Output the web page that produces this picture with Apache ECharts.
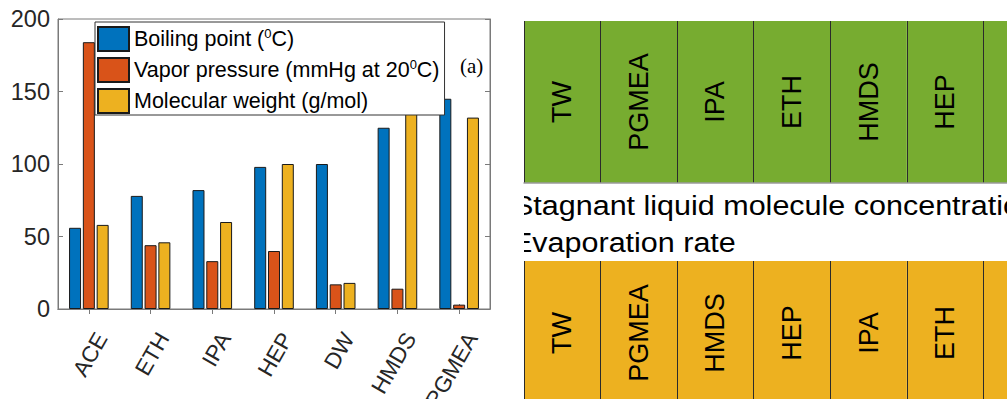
<!DOCTYPE html>
<html>
<head>
<meta charset="utf-8">
<script src="https://cdn.jsdelivr.net/npm/echarts@6/dist/echarts.min.js"></script>
<style>
  html, body { margin: 0; padding: 0; background: #fff; }
  #chart { width: 1007px; height: 399px; }
</style>
</head>
<body>
<div id="chart"></div>
<script>
// (a) solvent properties
var solvents = ['ACE', 'ETH', 'IPA', 'HEP', 'DW', 'HMDS', 'PGMEA'];
var boilingPoint = [56, 78, 82, 98, 100, 125, 145];
var vaporPressure = [184, 44, 33, 40, 17, 14, 3];
var molecularWeight = [58, 46, 60, 100, 18, 162, 132];
var yTicks = [0, 50, 100, 150, 200];

// legend text split as [before, superscript, after]
var legendParts = [
  ['Boiling point (', '0', 'C)'],
  ['Vapor pressure (mmHg at 20', '0', 'C)'],
  ['Molecular weight (g/mol)', '', '']
];

// ranking strips on the right (last cell is cut off by the edge, name not visible)
var concentrationOrder = ['TW', 'PGMEA', 'IPA', 'ETH', 'HMDS', 'HEP', ''];
var evaporationOrder = ['TW', 'PGMEA', 'HMDS', 'HEP', 'IPA', 'ETH', ''];
var stripLabels = ['Stagnant liquid molecule concentration', 'Evaporation rate'];

var BLUE = '#0072BD', RED = '#D95319', YELLOW = '#EDB120', GREEN = '#77AC30';
var AXIS = '#7a7a7a', TXT = '#262626';
var FONT = 'Arial, "Liberation Sans", Helvetica, sans-serif';

var seriesNames = legendParts.map(function(p) { return p.join(''); });

function propBar(index, values, color) {
  return {
    type: 'bar',
    name: seriesNames[index],
    xAxisIndex: 0,
    yAxisIndex: 0,
    barWidth: 12,
    barGap: '15%',
    data: values,
    itemStyle: { color: color, borderColor: '#1a1a1a', borderWidth: 1 }
  };
}

function stripBar(names, color, axisIdx) {
  return {
    type: 'bar',
    xAxisIndex: axisIdx,
    yAxisIndex: axisIdx,
    barCategoryGap: '0%',
    silent: true,
    data: names.map(function(n) { return { name: n, value: 1 }; }),
    itemStyle: { color: color },
    label: {
      show: true, position: 'inside', rotate: 90, formatter: '{b}',
      fontSize: 27, color: '#000', fontFamily: FONT
    }
  };
}

function stripXAxis(grid, names, pos) {
  return {
    type: 'category', gridIndex: grid, data: names, position: pos, z: 5,
    axisLine: { show: true, lineStyle: { color: '#9a9a9a', width: 1.5 } },
    axisTick: { show: false }, axisLabel: { show: false },
    splitLine: { show: true, lineStyle: { color: '#2b2b2b', width: 1 } }
  };
}

var chart = echarts.init(document.getElementById('chart'), null, { renderer: 'svg' });

var option = {
  animation: false,
  textStyle: { fontFamily: FONT },
  grid: [
    { left: 58, top: 19, right: 517, bottom: 90, show: true, borderColor: AXIS, borderWidth: 1, outerBoundsMode: 'none' },
    { left: 524, top: 21, height: 162, right: -53, outerBoundsMode: 'none' },
    { left: 524, top: 261, height: 144, right: -53, outerBoundsMode: 'none' }
  ],
  legend: {
    orient: 'vertical',
    left: 95, top: 22,
    data: seriesNames,
    icon: 'rect',
    backgroundColor: '#fff',
    borderColor: '#333', borderWidth: 1,
    padding: [4, 5, 1, 2],
    itemWidth: 31, itemHeight: 24, itemGap: 5,
    formatter: function(name) {
      var p = legendParts[seriesNames.indexOf(name)];
      var s = '{t|' + p[0] + '}';
      if (p[1]) s += '{s|' + p[1] + '}{t|' + p[2] + '}';
      return s;
    },
    textStyle: {
      rich: {
        t: { fontSize: 21.5, color: '#000', lineHeight: 24, fontFamily: FONT },
        s: { fontSize: 13, color: '#000', lineHeight: 16, verticalAlign: 'top', fontFamily: FONT }
      }
    }
  },
  xAxis: [
    {
      type: 'category', gridIndex: 0, data: solvents,
      axisLine: { lineStyle: { color: AXIS } },
      axisTick: { show: true, inside: true, alignWithLabel: true, length: 5, lineStyle: { color: AXIS } },
      axisLabel: {
        interval: 0, rotate: 60, fontSize: 22.5, color: TXT, margin: 18,
        align: 'right', verticalAlign: 'top', lineHeight: 30
      }
    },
    {
      type: 'category', gridIndex: 0, data: solvents, position: 'top',
      axisLine: { lineStyle: { color: AXIS } },
      axisTick: { show: true, inside: true, alignWithLabel: true, length: 5, lineStyle: { color: AXIS } },
      axisLabel: { show: false }
    },
    stripXAxis(1, concentrationOrder, 'bottom'),
    stripXAxis(2, evaporationOrder, 'top')
  ],
  yAxis: [
    {
      type: 'value', gridIndex: 0,
      min: yTicks[0], max: yTicks[yTicks.length - 1], interval: yTicks[1] - yTicks[0],
      axisLine: { show: true, lineStyle: { color: AXIS } },
      axisTick: { show: true, inside: true, length: 5, lineStyle: { color: AXIS } },
      axisLabel: { fontSize: 23.5, color: TXT, margin: 8, padding: [5, 0, 0, 0] },
      splitLine: { show: false }
    },
    {
      type: 'value', gridIndex: 0, position: 'right',
      min: yTicks[0], max: yTicks[yTicks.length - 1], interval: yTicks[1] - yTicks[0],
      axisLine: { show: true, lineStyle: { color: AXIS } },
      axisTick: { show: true, inside: true, length: 5, lineStyle: { color: AXIS } },
      axisLabel: { show: false },
      splitLine: { show: false }
    },
    { type: 'value', gridIndex: 1, min: 0, max: 1, show: false },
    { type: 'value', gridIndex: 2, min: 0, max: 1, show: false }
  ],
  graphic: [
    {
      type: 'text', x: 460, y: 66, z: 10,
      style: { text: '(a)', font: '21px "Liberation Serif", "Times New Roman", serif', fill: '#000', verticalAlign: 'middle' }
    },
    {
      type: 'text', x: 513, y: 205, z: 10, scaleX: 1.09,
      style: { text: stripLabels[0], font: '28px ' + FONT, fill: '#000', verticalAlign: 'middle' }
    },
    {
      type: 'text', x: 512, y: 242, z: 10, scaleX: 1.09,
      style: { text: stripLabels[1], font: '28px ' + FONT, fill: '#000', verticalAlign: 'middle' }
    },
    {
      type: 'rect', z: 20, silent: true,
      shape: { x: 493, y: 188, width: 31, height: 70 },
      style: { fill: '#fff' }
    }
  ],
  series: [
    propBar(0, boilingPoint, BLUE),
    propBar(1, vaporPressure, RED),
    propBar(2, molecularWeight, YELLOW),
    stripBar(concentrationOrder, GREEN, 2),
    stripBar(evaporationOrder, YELLOW, 3)
  ]
};

chart.setOption(option);
</script>
</body>
</html>
